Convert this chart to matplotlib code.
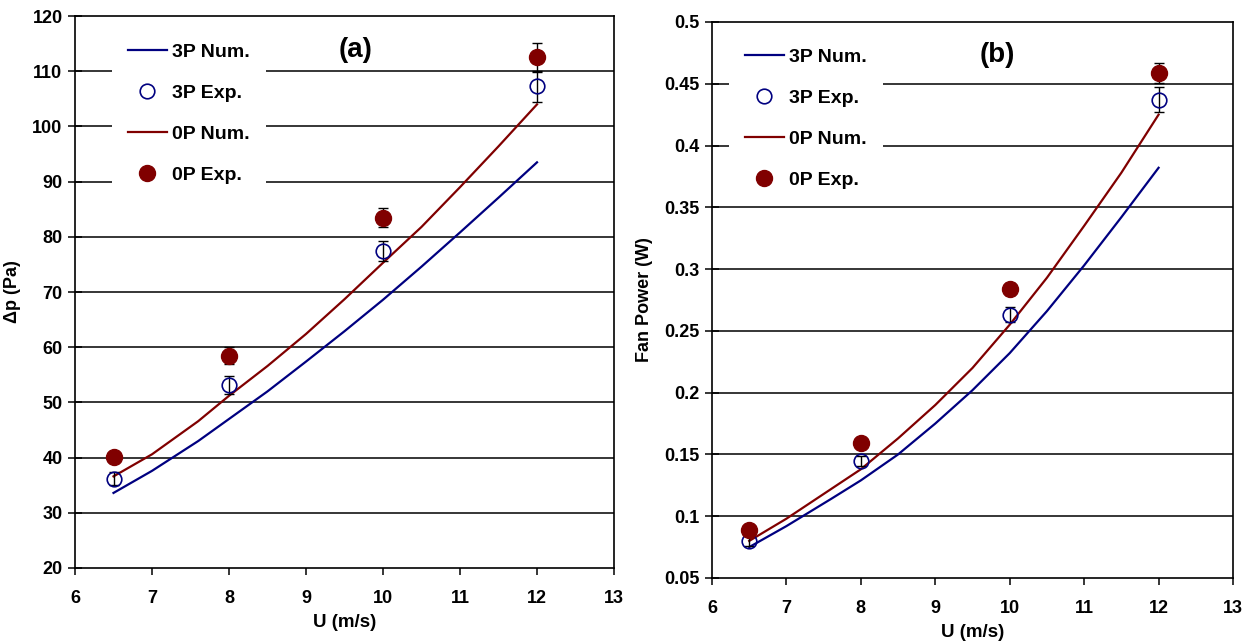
import matplotlib
matplotlib.use("Agg")
import matplotlib.pyplot as plt

plt.rcParams['font.family'] = ['Liberation Sans', 'DejaVu Sans']
plt.rcParams['font.weight'] = 'bold'

# --- data ---
u_num = [6.5, 7.0, 7.6, 8.0, 8.5, 9.0, 9.5, 10.0, 10.5, 11.0, 11.5, 12.0]
dp_3p_num = [33.6, 37.6, 43.0, 47.0, 52.0, 57.4, 62.9, 68.6, 74.6, 80.8, 87.1, 93.5]
dp_0p_num = [36.6, 40.6, 46.6, 51.2, 56.6, 62.4, 68.7, 75.3, 81.8, 89.0, 96.4, 104.0]
pw_3p_num = [0.075, 0.092, 0.114, 0.129, 0.150, 0.175, 0.202, 0.232, 0.266, 0.303, 0.342, 0.382]
pw_0p_num = [0.080, 0.098, 0.122, 0.138, 0.163, 0.190, 0.220, 0.255, 0.293, 0.335, 0.378, 0.425]

u_exp = [6.5, 8.0, 10.0, 12.0]
dp_3p_exp = [36.2, 53.2, 77.5, 107.3]
dp_3p_err = [1.2, 1.6, 1.8, 2.8]
dp_0p_exp = [40.2, 58.5, 83.5, 112.5]
dp_0p_err = [0.8, 1.5, 1.8, 2.6]
pw_3p_exp = [0.080, 0.145, 0.263, 0.437]
pw_3p_err = [0.004, 0.004, 0.006, 0.010]
pw_0p_exp = [0.089, 0.159, 0.284, 0.459]
pw_0p_err = [0.003, 0.003, 0.005, 0.008]

blue = '#000080'
red = '#800000'

fig = plt.figure(figsize=(12.5, 6.41), dpi=100)
ax1 = fig.add_axes([0.06, 0.1139, 0.4312, 0.861])
ax2 = fig.add_axes([0.5696, 0.0983, 0.4168, 0.8674])


def draw(ax, y3n, y0n, y3e, e3, y0e, e0, ylim, yticks, ylabel, tag, fmt,
         leg_anchor, tag_pos):
    ax.plot(u_num, y3n, color=blue, lw=1.6, label='3P Num.', zorder=3)
    ax.errorbar(u_exp, y3e, yerr=e3, fmt='none', ecolor='black', elinewidth=1,
                capsize=3.5, capthick=1, zorder=4)
    ax.plot(u_exp, y3e, 'o', mfc='none', mec=blue, mew=1.2, ms=10.5,
            label='3P Exp.', zorder=5)
    ax.plot(u_num, y0n, color=red, lw=1.6, label='0P Num.', zorder=3)
    ax.errorbar(u_exp, y0e, yerr=e0, fmt='none', ecolor='black', elinewidth=1,
                capsize=3.5, capthick=1, zorder=4)
    ax.plot(u_exp, y0e, 'o', color=red, ms=11.5, label='0P Exp.', zorder=5)

    ax.set_xlim(6, 13)
    ax.set_ylim(*ylim)
    ax.set_xticks(range(6, 14))
    ax.set_yticks(yticks)
    ax.set_yticklabels([fmt(v) for v in yticks])
    for v in yticks[1:-1]:
        ax.axhline(v, color='black', lw=1.1, zorder=1)
    for s in ax.spines.values():
        s.set_linewidth(1.2)
    ax.tick_params(axis='x', direction='out', length=5, width=1.1, labelsize=13, pad=11)
    ax.tick_params(axis='y', direction='inout', length=10, width=1.1, labelsize=13, pad=4)
    for lab in ax.get_xticklabels() + ax.get_yticklabels():
        lab.set_fontweight('bold')
    ax.set_xlabel('U (m/s)', fontsize=13.5, fontweight='bold', labelpad=5)
    ax.set_ylabel(ylabel, fontsize=13, fontweight='bold', labelpad=8)
    leg = ax.legend(loc='upper left', bbox_to_anchor=leg_anchor, borderaxespad=0,
                    frameon=True, fancybox=False, edgecolor='none', facecolor='white',
                    framealpha=1, prop={'weight': 'bold', 'size': 14},
                    labelspacing=1.2, handlelength=2.0, handletextpad=0.3,
                    borderpad=0.8)
    leg.set_zorder(6)
    ax.text(tag_pos[0], tag_pos[1], tag, transform=ax.transAxes, ha='center',
            va='center', fontsize=20, fontweight='bold', zorder=7)


draw(ax1, dp_3p_num, dp_0p_num, dp_3p_exp, dp_3p_err, dp_0p_exp, dp_0p_err,
     (20, 120), list(range(20, 121, 10)), '\u0394p (Pa)', '(a)', lambda v: f'{v:d}',
     (0.069, 0.979), (0.52, 0.938))
pw_ticks = [0.05, 0.1, 0.15, 0.2, 0.25, 0.3, 0.35, 0.4, 0.45, 0.5]
draw(ax2, pw_3p_num, pw_0p_num, pw_3p_exp, pw_3p_err, pw_0p_exp, pw_0p_err,
     (0.05, 0.5), pw_ticks, 'Fan Power (W)', '(b)', lambda v: f'{v:g}',
     (0.033, 0.981), (0.547, 0.94))

fig.savefig('out.png', dpi=100)
